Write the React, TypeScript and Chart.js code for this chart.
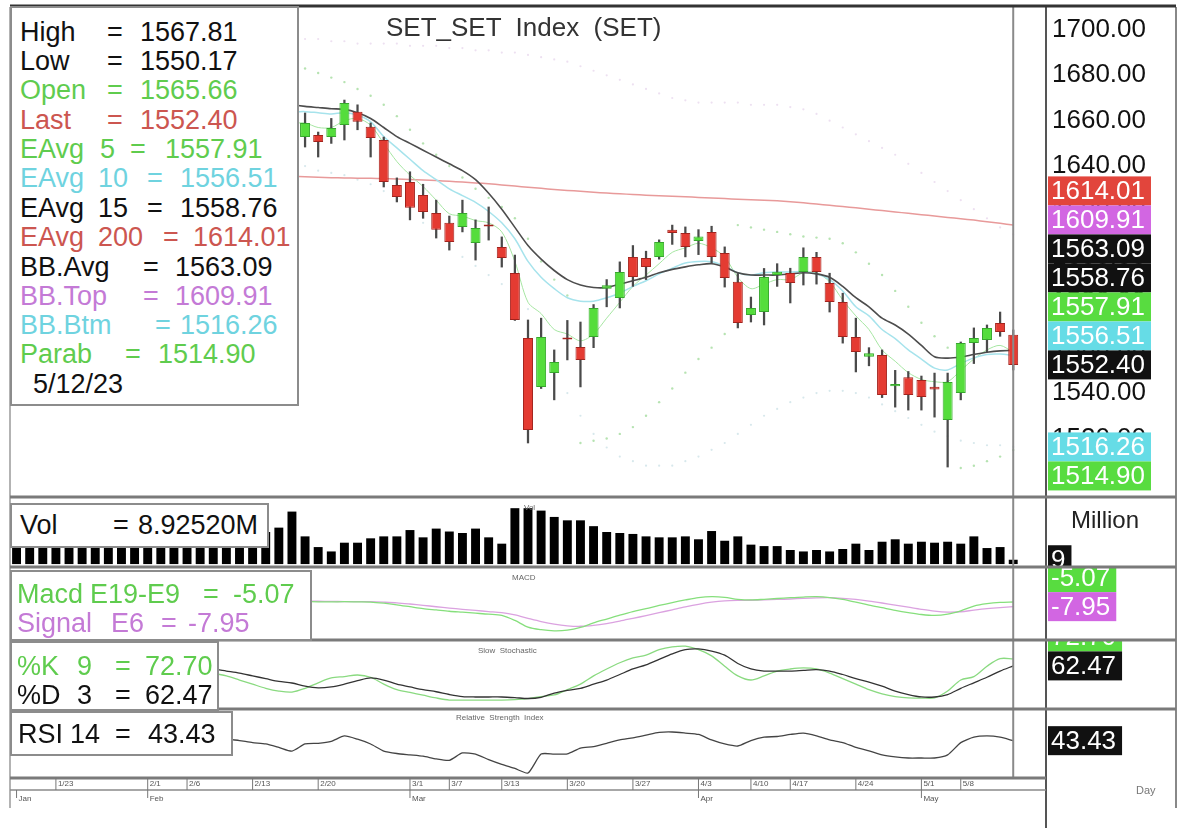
import React, { useEffect, useRef } from 'react';
import { Chart, registerables } from 'chart.js';

Chart.register(...registerables);

const FONT = "'Liberation Sans', Arial, Helvetica, sans-serif";

// ---------------- DATA ----------------
const dates = [
  '1/18', '1/19', '1/20', '1/23', '1/24', '1/25', '1/26', '1/27', '1/30', '1/31',
  '2/1', '2/2', '2/3', '2/6', '2/7', '2/8', '2/9', '2/10', '2/13', '2/14', '2/15', '2/16', '2/17', '2/20', '2/21', '2/22', '2/23', '2/24', '2/27', '2/28',
  '3/1', '3/2', '3/3', '3/7', '3/8', '3/9', '3/10', '3/13', '3/14', '3/15', '3/16', '3/17', '3/20', '3/21', '3/22', '3/23', '3/24', '3/27', '3/28', '3/29', '3/30', '3/31',
  '4/3', '4/4', '4/5', '4/7', '4/10', '4/11', '4/12', '4/17', '4/18', '4/19', '4/20', '4/21', '4/24', '4/25', '4/26', '4/27', '4/28',
  '5/1', '5/2', '5/3', '5/8', '5/9', '5/10', '5/11', '5/12',
];

const opens = [
  1680, 1683, 1686, 1688, 1684, 1682, 1679, 1681, 1677, 1675,
  1670, 1680, 1685, 1679, 1672, 1676, 1670, 1666, 1662, 1660,
  1658, 1654,
  1652.8, 1653.7, 1652.8, 1658.1, 1663.9, 1657.3, 1651.5, 1631.7, 1633.0, 1627.3,
  1619.3, 1615.0, 1613.2, 1606.1, 1613.8, 1604.4, 1592.9, 1564.3, 1542.7, 1548.8,
  1564.0, 1560.3, 1564.7, 1586.0, 1581.9, 1600.0, 1599.5, 1600.0, 1612.0, 1610.5,
  1607.0, 1611.0, 1601.7, 1589.0, 1574.4, 1575.7, 1592.0, 1592.9, 1593.3, 1600.0,
  1588.5, 1580.1, 1564.7, 1556.0, 1556.8, 1543.0, 1547.0, 1545.7, 1542.8, 1528.1,
  1540.0, 1562.0, 1563.4, 1570.9, 1565.66,
];
const highs = [
  1686, 1689, 1692, 1690, 1687, 1684, 1684, 1683, 1679, 1676,
  1682, 1688, 1687, 1680, 1678, 1677, 1672, 1668, 1666, 1664,
  1660, 1660,
  1663.4, 1655.0, 1661.0, 1669.1, 1667.0, 1659.0, 1652.8, 1634.8, 1637.5, 1632.0,
  1625.0, 1618.0, 1625.0, 1616.3, 1622.0, 1608.8, 1600.8, 1572.2, 1573.0, 1559.0,
  1572.0, 1571.3, 1579.0, 1590.0, 1597.8, 1605.0, 1602.5, 1607.5, 1614.0, 1613.2,
  1612.0, 1613.5, 1604.4, 1592.7, 1582.3, 1594.9, 1597.0, 1595.0, 1604.0, 1602.0,
  1592.8, 1584.0, 1573.0, 1560.0, 1559.0, 1550.0, 1549.5, 1547.5, 1548.8, 1548.8,
  1562.5, 1568.7, 1570.0, 1575.7, 1567.81,
];
const lows = [
  1677, 1680, 1683, 1681, 1679, 1676, 1677, 1675, 1672, 1667,
  1669, 1678, 1677, 1670, 1670, 1668, 1664, 1659, 1658, 1656,
  1651, 1650,
  1648.4, 1644.0, 1650.0, 1651.5, 1656.0, 1644.0, 1630.8, 1624.2, 1616.3, 1617.0,
  1608.3, 1603.0, 1611.0, 1598.6, 1607.4, 1595.5, 1572.0, 1518.0, 1542.0, 1537.0,
  1554.6, 1542.7, 1560.0, 1578.0, 1577.5, 1587.0, 1590.0, 1599.0, 1605.5, 1600.0,
  1601.0, 1597.3, 1586.7, 1568.7, 1571.3, 1570.0, 1587.0, 1579.7, 1587.6, 1588.0,
  1575.7, 1562.0, 1549.3, 1552.0, 1538.0, 1533.8, 1532.5, 1532.5, 1529.4, 1507.4,
  1537.0, 1553.0, 1558.0, 1565.0, 1550.17,
];
const closes = [
  1683, 1686, 1688, 1684, 1682, 1679, 1681, 1677, 1675, 1670,
  1680, 1685, 1679, 1672, 1676, 1670, 1666, 1662, 1660, 1658,
  1654, 1657,
  1659.0, 1650.6, 1656.8, 1667.8, 1659.5, 1652.4, 1633.0, 1626.4, 1621.6, 1619.8,
  1611.9, 1606.6, 1619.3, 1612.7, 1613.4, 1599.5, 1572.2, 1523.7, 1564.7, 1553.7,
  1563.6, 1554.6, 1577.5, 1587.5, 1593.3, 1591.1, 1595.5, 1606.6, 1610.5, 1604.4,
  1609.0, 1600.0, 1590.7, 1570.9, 1577.5, 1591.1, 1593.5, 1588.5, 1600.0, 1593.3,
  1580.1, 1564.7, 1558.1, 1557.5, 1539.1, 1544.0, 1539.1, 1538.3, 1541.6, 1544.9,
  1562.0, 1564.3, 1568.7, 1566.9, 1552.40,
];

const ema5 = [
  1683, 1684, 1685, 1685, 1684, 1682, 1681, 1680, 1678, 1675, 1677, 1679, 1679, 1676, 1676, 1674, 1671, 1668, 1665, 1663, 1661, 1659,
  1659, 1657, 1657, 1660, 1661, 1658, 1650, 1642, 1636, 1631,
  1625, 1619, 1618, 1616, 1615, 1611, 1598, 1580, 1575, 1568,
  1566, 1563, 1566, 1573, 1580, 1587, 1592, 1597, 1602, 1604,
  1606, 1604, 1600, 1591, 1586, 1588, 1590, 1590, 1593, 1593,
  1589, 1581, 1574, 1568, 1559, 1554, 1549, 1546, 1545, 1545,
  1550, 1555, 1559, 1561, 1557.91,
];
const ema10 = [
  1678, 1679, 1680, 1679, 1679, 1678, 1678, 1677, 1677, 1676, 1677, 1678, 1678, 1676, 1675, 1674, 1672, 1670, 1668, 1667, 1665, 1664,
  1664, 1663.5, 1663, 1663.5, 1662.5, 1659.5, 1653, 1648, 1643, 1638,
  1634, 1630, 1627, 1624, 1620, 1615, 1608, 1598, 1591, 1586,
  1582, 1580.5, 1580.5, 1582, 1584, 1587, 1589.5, 1592.5, 1595, 1597.3,
  1598, 1597.9, 1596, 1593, 1592, 1593, 1593.3, 1593.3, 1593.5, 1592.5,
  1590, 1585, 1578, 1574, 1568, 1564, 1559, 1555, 1551, 1550.2,
  1553, 1555.5, 1557, 1557.2, 1556.51,
];
const ema15 = [
  1676, 1677, 1678, 1678, 1678, 1678, 1678, 1678, 1678, 1677, 1677, 1678, 1678, 1677, 1676, 1675, 1674, 1672, 1670, 1669, 1668, 1667,
  1666.3, 1665.8, 1665.3, 1665, 1663.5, 1661, 1657, 1653, 1650, 1647,
  1644, 1641, 1638, 1634, 1628, 1621, 1613, 1605, 1599, 1594,
  1590, 1587.6, 1586.5, 1586.5, 1588, 1589.5, 1591, 1593, 1594.5, 1595.6,
  1596.5, 1597, 1595.5, 1593, 1592, 1592, 1592, 1592.5, 1593, 1592.5,
  1591, 1587, 1582, 1578, 1573, 1570, 1566, 1561, 1556, 1555.4,
  1555.9, 1557, 1558, 1558.6, 1558.76,
];
const ema200 = [
  1637.6, 1637.6, 1637.5, 1637.5, 1637.4, 1637.4, 1637.3, 1637.3, 1637.2, 1637.1, 1637.1, 1637.0, 1637.0, 1636.9, 1636.8, 1636.7, 1636.6, 1636.4, 1636.2, 1636.0, 1635.8, 1635.6,
  1635.3, 1635.1, 1634.9, 1634.8, 1634.7, 1634.6, 1634.5, 1634.3, 1634.1, 1633.9,
  1633.6, 1633.3, 1633.0, 1632.6, 1632.2, 1631.7, 1631.2, 1630.7, 1630.2, 1629.7,
  1629.3, 1628.9, 1628.5, 1628.1, 1627.8, 1627.5, 1627.2, 1626.9, 1626.7, 1626.5,
  1626.2, 1625.9, 1625.7, 1625.4, 1625.2, 1625.0, 1624.7, 1624.3, 1623.8, 1623.3,
  1622.7, 1622.2, 1621.6, 1621.0, 1620.4, 1619.8, 1619.2, 1618.6, 1618.0, 1617.4,
  1616.8, 1616.2, 1615.5, 1614.8, 1614.01,
];
const bbTop = [
  1698, 1699, 1700, 1700, 1701, 1701, 1701, 1700, 1700, 1699, 1699, 1699, 1699, 1698, 1698, 1698, 1697, 1697, 1697, 1696, 1696, 1696,
  1696, 1696, 1695, 1695, 1694, 1694, 1694, 1694, 1693, 1693,
  1693, 1692, 1692, 1691, 1691, 1690, 1690, 1689, 1688, 1687,
  1686, 1684, 1682, 1680, 1678, 1676, 1674, 1672, 1670, 1669,
  1668, 1668, 1668, 1668, 1667, 1667, 1667, 1666, 1665, 1663,
  1660, 1657, 1654, 1651, 1648, 1645, 1641, 1637, 1633, 1629,
  1625, 1621, 1617, 1613, 1609.91,
];
const bbBtm = [
  1652, 1653, 1654, 1655, 1656, 1657, 1658, 1658, 1658, 1657, 1656, 1656, 1655, 1654, 1652, 1650, 1648, 1646, 1644, 1643, 1642, 1641,
  1640, 1638, 1637, 1636, 1634, 1632, 1629, 1625, 1620, 1615,
  1610, 1605, 1600, 1596, 1592, 1588, 1583, 1577, 1566, 1552,
  1540, 1530, 1522, 1516, 1512, 1510, 1508, 1508, 1508, 1510,
  1512, 1515, 1518, 1522, 1526, 1530, 1533, 1536, 1538, 1540,
  1541, 1541, 1540, 1538, 1535, 1532, 1529, 1526, 1523, 1521,
  1519, 1518, 1517, 1517, 1516.26,
];
const parab = [
  1688, 1690, 1692, 1694, 1695, 1696, 1697, 1697, 1698, 1698, 1699, 1699, 1699, 1699, 1698, 1697, 1696, 1695, 1694, 1692, 1690, 1686,
  1683, 1681, 1679, 1677, 1674, 1671, 1667, 1662, 1656, 1650,
  1645, 1640, 1635, 1630, 1626, 1622, 1617, 1608, 1598, 1590,
  1583, 1518, 1519, 1520, 1522, 1525, 1530, 1536, 1542, 1549,
  1555, 1560, 1566, 1614, 1613, 1612, 1611, 1610, 1609, 1608.5,
  1608, 1606, 1602, 1597, 1592, 1585, 1578, 1571, 1565, 1560,
  1507, 1508, 1510, 1512, 1514.9,
];
const BB_AVG_LAST = 1563.09;

const volumes = [
  70, 66, 74, 80, 62, 58, 64, 60, 72, 85, 78, 68, 62, 70, 66, 60, 64, 72, 68, 66,
  75, 108, 57, 35, 26, 44, 44, 53, 57, 57, 70, 55, 73, 67, 64, 73, 55, 42, 115, 115, 110, 97, 90, 90, 78,
  66, 64, 62, 57, 55, 55, 57, 51, 68, 48, 57, 40, 37, 37, 29, 26, 29, 26, 31, 42, 29, 46, 51, 42, 46, 44, 46, 42, 57, 33, 35, 8.9252,
];

const macd = [
  1.5, 1.8, 2.0, 1.9, 1.6, 1.2, 0.9, 0.5, 0.0, -0.6, -0.8, -0.6, -0.7, -1.2, -1.5, -2.0, -2.5, -3.1, -3.6, -4.0, -4.4, -4.7,
  -4.8, -5.0, -5.0, -4.9, -5.0, -5.1, -5.8, -6.8, -8.0, -9.2,
  -10.0, -10.8, -11.4, -12.0, -12.6, -13.4, -16.5, -20.6, -22.2, -22.9,
  -22.5, -20.8, -18, -15.6, -13.2, -11.0, -9.2, -7.2, -5.4, -3.8,
  -2.4, -1.8, -2.2, -3.4, -3.8, -3.4, -2.9, -2.4, -2.0, -1.8,
  -2.3, -3.5, -5.2, -7.0, -8.6, -10.2, -11.6, -12.8, -13.4, -12.6,
  -10.5, -7.6, -6.1, -5.3, -5.07,
];
const signal = [
  1.0, 1.3, 1.5, 1.6, 1.6, 1.5, 1.3, 1.1, 0.8, 0.4, 0.1, -0.1, -0.3, -0.5, -0.8, -1.2, -1.6, -2.1, -2.6, -3.1, -3.6, -4.1,
  -4.5, -4.6, -4.7, -4.8, -4.8, -4.9, -5.2, -5.6, -6.3, -7.1,
  -8.0, -8.8, -9.6, -10.3, -11.0, -11.7, -13.1, -15.2, -17.2, -18.8,
  -19.8, -20.1, -19.5, -18.4, -16.9, -15.2, -13.5, -11.7, -9.9, -8.1,
  -6.5, -5.2, -4.4, -4.1, -4.0, -3.8, -3.5, -3.2, -2.8, -2.5,
  -2.4, -2.8, -3.5, -4.5, -5.7, -7.0, -8.3, -9.6, -10.7, -11.3,
  -11.1, -10.1, -9.2, -8.5, -7.95,
];
const stochK = [
  84, 86, 85, 82, 78, 74, 72, 70, 67, 62, 64, 68, 68, 63, 58, 52,
  48, 42, 36, 30, 26, 24.6, 30, 38, 45, 47,
  49.3, 46, 36, 28, 24, 20, 16, 13, 13, 13,
  13, 13, 13.5, 15, 18, 20.3, 28, 36, 48, 58,
  67, 74, 78, 86, 90, 91, 86, 77, 62, 48,
  42, 48, 55, 58, 59.5, 58, 52, 44, 36, 28,
  22, 18, 16, 15.9, 16, 26, 42, 47, 62, 73,
  72.7,
];
const stochD = [
  80, 82, 84, 83, 80, 76, 74, 72, 70, 66, 64, 66, 68, 66, 62, 58,
  55, 52, 48, 44, 40, 37.7, 33, 30.5, 32, 36,
  41, 45, 42, 36, 32, 28, 25, 21, 18, 17.4,
  17.4, 17.4, 16.5, 15.2, 17, 23, 27, 30, 36, 42,
  50, 58, 64, 72, 80, 86, 87, 84, 78, 66,
  58, 55, 55, 55, 56, 57, 55, 50, 44, 39,
  33, 26, 21, 17.5, 17.4, 21, 30, 38, 46, 55,
  62.47,
];
const rsi = [
  60, 62, 63, 61, 58, 56, 55, 53, 52, 48, 52, 55, 53, 49, 50, 47,
  44.7, 43.5, 42, 41, 38.5, 35.8, 41, 41.5, 43, 46.9,
  44.5, 41, 35.8, 34, 33, 32, 30, 29, 34.4, 33.6,
  29.5, 26, 23, 19.7, 33.6, 33.6, 33.8, 38, 39, 41.5,
  44, 45.5, 47.5, 49.5, 49.8, 49, 48, 44, 41, 39.5,
  43.5, 46, 46.5, 48, 49, 47, 44, 42, 38.5, 36,
  33, 31.5, 30.7, 30.7, 30.7, 33, 42, 46, 46.9, 46,
  43.43,
];

const xTickDates = ['1/23', '2/1', '2/6', '2/13', '2/20', '3/1', '3/7', '3/13', '3/20', '3/27', '4/3', '4/10', '4/17', '4/24', '5/1', '5/8'];
const monthStarts: Record<string, string> = { '1/18': 'Jan', '2/1': 'Feb', '3/1': 'Mar', '4/3': 'Apr', '5/1': 'May' };
const priceTicks = [1520, 1540, 1560, 1580, 1600, 1620, 1640, 1660, 1680, 1700];
const LAST_DATE_TEXT = '5/12/23';

// ---------------- STYLE ----------------
const C_GREEN = '#55dd3c';
const C_RED = '#e43b32';
const T_GREEN = '#5fcc4e';
const T_RED = '#cc5650';
const T_CYAN = '#6fd3df';
const T_VIOLET = '#c47ad6';
const TAG_RED = '#e2453c';
const TAG_VIOLET = '#d266e2';
const TAG_GREEN = '#58dc40';
const TAG_CYAN = '#66dce6';
const TAG_BLACK = '#111111';

const L = dates.length - 1;
const f2 = (v: number) => v.toFixed(2);

type Tag = { v: number; bg: string; fg: string; text: string; anchor?: boolean };

function drawTags(ctx: any, scale: any, tagsIn: Tag[], xLeft: number, xRight: number) {
  const tags = [...tagsIn].sort((a, b) => b.v - a.v);
  const h = 29;
  const ys = tags.map((t) => scale.getPixelForValue(t.v));
  let a = tags.findIndex((t) => t.anchor);
  if (a < 0) a = tags.length - 1;
  for (let i = a - 1; i >= 0; i--) ys[i] = Math.min(ys[i], ys[i + 1] - h);
  for (let i = a + 1; i < ys.length; i++) ys[i] = Math.max(ys[i], ys[i - 1] + h);
  ctx.save();
  ctx.beginPath();
  ctx.rect(xLeft, scale.top, xRight - xLeft, scale.bottom - scale.top);
  ctx.clip();
  ctx.font = `26px ${FONT}`;
  ctx.textBaseline = 'middle';
  ctx.textAlign = 'left';
  tags.forEach((t, i) => {
    const w = ctx.measureText(t.text).width + 9;
    ctx.fillStyle = t.bg;
    ctx.fillRect(xLeft + 2, ys[i] - h / 2, w, h);
    ctx.fillStyle = t.fg;
    ctx.fillText(t.text, xLeft + 5, ys[i] + 1);
  });
  ctx.restore();
}

const framePlugin = {
  id: 'frame',
  afterDraw(chart: any) {
    const { ctx, chartArea: ca, scales } = chart;
    const { x, y, yVol, yMacd, yStoch, yRsi } = scales;
    const axisX = y.left;
    const right = y.right;

    drawTags(ctx, y, [
      { v: ema200[L], bg: TAG_RED, fg: '#fff', text: f2(ema200[L]) },
      { v: bbTop[L], bg: TAG_VIOLET, fg: '#fff', text: f2(bbTop[L]) },
      { v: BB_AVG_LAST, bg: TAG_BLACK, fg: '#fff', text: f2(BB_AVG_LAST) },
      { v: ema15[L], bg: TAG_BLACK, fg: '#fff', text: f2(ema15[L]) },
      { v: ema5[L], bg: TAG_GREEN, fg: '#fff', text: f2(ema5[L]) },
      { v: ema10[L], bg: TAG_CYAN, fg: '#fff', text: f2(ema10[L]) },
      { v: closes[L], bg: TAG_BLACK, fg: '#fff', text: f2(closes[L]), anchor: true },
      { v: bbBtm[L], bg: TAG_CYAN, fg: '#fff', text: f2(bbBtm[L]) },
      { v: parab[L], bg: TAG_GREEN, fg: '#fff', text: f2(parab[L]) },
    ], axisX, right);
    drawTags(ctx, yVol, [{ v: volumes[L], bg: TAG_BLACK, fg: '#fff', text: String(Math.round(volumes[L])), anchor: true }], axisX, right);
    drawTags(ctx, yMacd, [
      { v: macd[L], bg: TAG_GREEN, fg: '#fff', text: f2(macd[L]) },
      { v: signal[L], bg: TAG_VIOLET, fg: '#fff', text: f2(signal[L]), anchor: true },
    ], axisX, right);
    drawTags(ctx, yStoch, [
      { v: stochK[L], bg: TAG_GREEN, fg: '#fff', text: f2(stochK[L]) },
      { v: stochD[L], bg: TAG_BLACK, fg: '#fff', text: f2(stochD[L]), anchor: true },
    ], axisX, right);
    drawTags(ctx, yRsi, [{ v: rsi[L], bg: TAG_BLACK, fg: '#fff', text: f2(rsi[L]), anchor: true }], axisX, right);

    ctx.save();
    const line = (x1: number, y1: number, x2: number, y2: number) => {
      ctx.beginPath();
      ctx.moveTo(x1, y1);
      ctx.lineTo(x2, y2);
      ctx.stroke();
    };
    const cx = x.getPixelForValue(L);
    ctx.strokeStyle = '#8a8a8a';
    ctx.lineWidth = 2;
    line(cx, ca.top, cx, ca.bottom);
    ctx.strokeStyle = '#9a9a9a';
    ctx.lineWidth = 1.5;
    line(ca.left, ca.top, ca.left, ca.bottom + 30);
    ctx.strokeStyle = '#555';
    ctx.lineWidth = 2;
    line(axisX, ca.top, axisX, ca.bottom + 50);
    ctx.strokeStyle = '#888';
    ctx.lineWidth = 2;
    line(right, ca.top, right, ca.bottom + 30);
    ctx.strokeStyle = '#333';
    ctx.lineWidth = 3;
    line(ca.left, ca.top - 1, right, ca.top - 1);
    ctx.strokeStyle = '#7a7a7a';
    ctx.lineWidth = 3;
    [y.bottom, yVol.bottom, yMacd.bottom, yStoch.bottom].forEach((yy: number) => line(ca.left, yy, right, yy));
    line(ca.left, yRsi.bottom, axisX, yRsi.bottom);
    ctx.strokeStyle = '#8a8a8a';
    ctx.lineWidth = 1.5;
    line(ca.left, ca.bottom + 12, axisX, ca.bottom + 12);
    ctx.font = `8px ${FONT}`;
    ctx.fillStyle = '#555';
    ctx.textAlign = 'left';
    ctx.textBaseline = 'middle';
    ctx.strokeStyle = '#777';
    ctx.lineWidth = 1;
    dates.forEach((d, i) => {
      const px = x.getPixelForValue(i);
      const show = xTickDates.includes(d);
      const m = monthStarts[d];
      if (show) {
        line(px, ca.bottom, px, ca.bottom + 12);
        ctx.fillText(d, px + 2, ca.bottom + 6);
      }
      if (m) {
        line(px, ca.bottom + 12, px, ca.bottom + 20);
        ctx.fillText(m, px + 2, ca.bottom + 21);
      }
    });
    ctx.restore();
  },
};

const fitY = (s: any) => {
  s.width = 130;
  s.paddingTop = 0;
  s.paddingBottom = 0;
};

const hiddenY = (weight: number, min: number, max: number) => ({
  type: 'linear',
  position: 'right',
  stack: 'panes',
  stackWeight: weight,
  min,
  max,
  grid: { display: false, drawTicks: false },
  border: { display: false },
  ticks: { display: false },
  afterFit: fitY,
});

function Part({ x, y, text, color, size = 27 }: any) {
  return (
    <span style={{ position: 'absolute', left: x, top: y - 16, fontSize: size, lineHeight: '32px', color, whiteSpace: 'pre', fontFamily: FONT }}>
      {text}
    </span>
  );
}

function Row({ y, color, parts, size }: any) {
  return <>{parts.map((p: any, i: number) => <Part key={i} x={p[1]} y={y} text={p[0]} color={color} size={size} />)}</>;
}

function Box({ left, top, width, height }: any) {
  return <div style={{ position: 'absolute', left, top, width, height, background: '#fff', border: '2px solid #8c8c8c', boxSizing: 'border-box' }} />;
}

export default function App() {
  const canvasRef = useRef<HTMLCanvasElement>(null);

  useEffect(() => {
    const canvas = canvasRef.current as HTMLCanvasElement;
    const labels = [...dates, ' ', '  '];
    const bodyColors = closes.map((c, i) => (c >= opens[i] ? C_GREEN : C_RED));
    const bodyBorders = closes.map((c, i) => (c >= opens[i] ? '#36a82c' : '#a3231d'));
    const chart = new Chart(canvas, {
      type: 'bar',
      data: {
        labels,
        datasets: [
          { type: 'bar', label: 'Body', data: opens.map((o, i) => [o, closes[i]]), yAxisID: 'y', backgroundColor: bodyColors, borderColor: bodyBorders, borderWidth: 1, borderSkipped: false, grouped: false, barPercentage: 0.76, categoryPercentage: 1, minBarLength: 2, order: 1 },
          { type: 'bar', label: 'Wick', data: lows.map((l, i) => [l, highs[i]]), yAxisID: 'y', backgroundColor: '#4a4a4a', barThickness: 1.6, grouped: false, order: 2 },
          { type: 'line', label: 'EAvg 200', data: ema200, yAxisID: 'y', borderColor: '#e89a9a', borderWidth: 1.5, pointRadius: 0, tension: 0.3, order: 6 },
          { type: 'line', label: 'EAvg 15', data: ema15, yAxisID: 'y', borderColor: '#4d4d4d', borderWidth: 1.6, pointRadius: 0, tension: 0.3, order: 5 },
          { type: 'line', label: 'EAvg 10', data: ema10, yAxisID: 'y', borderColor: '#a6e3ec', borderWidth: 1.5, pointRadius: 0, tension: 0.3, order: 5 },
          { type: 'line', label: 'EAvg 5', data: ema5, yAxisID: 'y', borderColor: '#a6e6a2', borderWidth: 1, pointRadius: 0, tension: 0.3, order: 5 },
          { type: 'line', label: 'BB.Top', data: bbTop, yAxisID: 'y', showLine: false, pointRadius: 1.1, pointBorderWidth: 0, pointBackgroundColor: 'rgba(200,160,210,0.32)', order: 9 },
          { type: 'line', label: 'BB.Btm', data: bbBtm, yAxisID: 'y', showLine: false, pointRadius: 1.1, pointBorderWidth: 0, pointBackgroundColor: 'rgba(140,190,200,0.35)', order: 9 },
          { type: 'line', label: 'Parab', data: parab, yAxisID: 'y', showLine: false, pointRadius: 1.2, pointBorderWidth: 0, pointBackgroundColor: 'rgba(110,200,100,0.5)', order: 9 },
          { type: 'bar', label: 'Vol', data: volumes, yAxisID: 'yVol', backgroundColor: '#000', grouped: false, barPercentage: 0.68, categoryPercentage: 1, order: 1 },
          { type: 'line', label: 'Macd', data: macd, yAxisID: 'yMacd', borderColor: '#86df7c', borderWidth: 1.3, pointRadius: 0, tension: 0.3, order: 3 },
          { type: 'line', label: 'Signal', data: signal, yAxisID: 'yMacd', borderColor: '#dba2e0', borderWidth: 1.3, pointRadius: 0, tension: 0.3, order: 4 },
          { type: 'line', label: '%K', data: stochK, yAxisID: 'yStoch', borderColor: '#8ada80', borderWidth: 1.3, pointRadius: 0, tension: 0.3, order: 4 },
          { type: 'line', label: '%D', data: stochD, yAxisID: 'yStoch', borderColor: '#333', borderWidth: 1.3, pointRadius: 0, tension: 0.3, order: 3 },
          { type: 'line', label: 'RSI', data: rsi, yAxisID: 'yRsi', borderColor: '#444', borderWidth: 1.3, pointRadius: 0, tension: 0.2, order: 3 },
        ] as any,
      },
      options: {
        responsive: false,
        animation: false,
        layout: { padding: { left: 10, top: 7, right: 14, bottom: 20 } },
        plugins: { legend: { display: false }, tooltip: { enabled: false } },
        scales: {
          x: {
            type: 'category',
            offset: true,
            grid: { display: false, drawTicks: false },
            border: { display: false },
            ticks: { display: false },
            afterFit: (s: any) => { s.height = 30; s.paddingLeft = 0; s.paddingRight = 0; },
          },
          y: {
            type: 'linear',
            position: 'right',
            stack: 'panes',
            stackWeight: 490,
            min: 1494.2,
            max: 1710.1,
            grid: { display: false, drawTicks: false },
            border: { display: false },
            afterBuildTicks: (s: any) => { s.ticks = priceTicks.map((v) => ({ value: v })); },
            afterFit: fitY,
            ticks: { color: '#111', padding: 6, autoSkip: false, font: { size: 26, family: FONT }, callback: (v: any) => Number(v).toFixed(2) },
          },
          yVol: hiddenY(70, -6, 138),
          yMacd: hiddenY(73, -28.6, 16.6),
          yStoch: hiddenY(69, 0, 100),
          yRsi: hiddenY(69, 16, 66.7),
        } as any,
      },
      plugins: [framePlugin],
    } as any);
    return () => chart.destroy();
  }, []);

  const tiny = (text: string, left: number, top: number) => (
    <span style={{ position: 'absolute', left, top, fontSize: 8, color: '#666', fontFamily: FONT, whiteSpace: 'pre' }}>{text}</span>
  );

  return (
    <div style={{ position: 'absolute', left: 0, top: 0, width: 1190, height: 828, background: '#fff', overflow: 'hidden', fontFamily: FONT }}>
      <canvas ref={canvasRef} width={1190} height={828} style={{ position: 'absolute', left: 0, top: 0 }} />

      <span style={{ position: 'absolute', left: 386, top: 12, fontSize: 26, color: '#333', whiteSpace: 'pre', fontFamily: FONT }}>SET_SET  Index  (SET)</span>
      {tiny('Vol', 524, 503)}
      {tiny('MACD', 512, 573)}
      {tiny('Slow  Stochastic', 478, 646)}
      {tiny('Relative  Strength  Index', 456, 713)}
      <span style={{ position: 'absolute', left: 1071, top: 506, fontSize: 24, color: '#222', fontFamily: FONT }}>Million</span>
      <span style={{ position: 'absolute', left: 1136, top: 784, fontSize: 11, color: '#777', fontFamily: FONT }}>Day</span>

      <Box left={10} top={6} width={289} height={400} />
      <Row y={32} color="#111" parts={[['High', 20], ['=', 107], [f2(highs[L]), 140]]} />
      <Row y={61} color="#111" parts={[['Low', 20], ['=', 107], [f2(lows[L]), 140]]} />
      <Row y={90} color={T_GREEN} parts={[['Open', 20], ['=', 107], [f2(opens[L]), 140]]} />
      <Row y={120} color={T_RED} parts={[['Last', 20], ['=', 107], [f2(closes[L]), 140]]} />
      <Row y={149} color={T_GREEN} parts={[['EAvg', 20], ['5', 100], ['=', 130], [f2(ema5[L]), 165]]} />
      <Row y={178} color={T_CYAN} parts={[['EAvg', 20], ['10', 98], ['=', 147], [f2(ema10[L]), 180]]} />
      <Row y={208} color="#111" parts={[['EAvg', 20], ['15', 98], ['=', 147], [f2(ema15[L]), 180]]} />
      <Row y={237} color={T_RED} parts={[['EAvg', 20], ['200', 98], ['=', 163], [f2(ema200[L]), 193]]} />
      <Row y={267} color="#111" parts={[['BB.Avg', 20], ['=', 143], [f2(BB_AVG_LAST), 175]]} />
      <Row y={296} color={T_VIOLET} parts={[['BB.Top', 20], ['=', 143], [f2(bbTop[L]), 175]]} />
      <Row y={325} color={T_CYAN} parts={[['BB.Btm', 20], ['=', 155], [f2(bbBtm[L]), 180]]} />
      <Row y={354} color={T_GREEN} parts={[['Parab', 20], ['=', 125], [f2(parab[L]), 158]]} />
      <Row y={384} color="#111" parts={[[LAST_DATE_TEXT, 33]]} />

      <Box left={10} top={503} width={259} height={45} />
      <Row y={525} color="#111" parts={[['Vol', 20], ['=', 113], [volumes[L].toFixed(5) + 'M', 138]]} />

      <Box left={10} top={570} width={302} height={71} />
      <Row y={594} color={T_GREEN} parts={[['Macd', 17], ['E19-E9', 90], ['=', 203], [f2(macd[L]), 233]]} />
      <Row y={623} color={T_VIOLET} parts={[['Signal', 17], ['E6', 111], ['=', 161], [f2(signal[L]), 188]]} />

      <Box left={10} top={641} width={209} height={70} />
      <Row y={666} color={T_GREEN} parts={[['%K', 17], ['9', 77], ['=', 115], [f2(stochK[L]), 145]]} />
      <Row y={695} color="#111" parts={[['%D', 17], ['3', 77], ['=', 115], [f2(stochD[L]), 145]]} />

      <Box left={10} top={711} width={223} height={45} />
      <Row y={734} color="#111" parts={[['RSI', 18], ['14', 70], ['=', 115], [f2(rsi[L]), 148]]} />
    </div>
  );
}
